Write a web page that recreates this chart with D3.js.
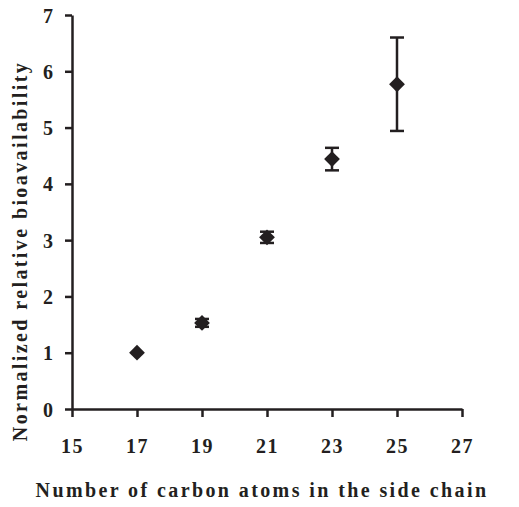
<!DOCTYPE html>
<html>
<head>
<meta charset="utf-8">
<script src="https://cdn.jsdelivr.net/npm/d3@7"></script>
<style>
  html, body { margin: 0; padding: 0; background: #fff; }
  svg text { font-family: "Liberation Serif", "DejaVu Serif", serif; font-weight: bold; fill: #231f20; }
</style>
</head>
<body>
<svg id="chart" width="519" height="507"></svg>
<script>
// Carbon atoms in the side chain vs. normalized relative bioavailability
const carbonAtoms = [17, 19, 21, 23, 25];
const bioavailability = [1.0, 1.53, 3.05, 4.44, 5.77];
const errorValues = [0.0, 0.07, 0.1, 0.2, 0.83];
const xTicks = [15, 17, 19, 21, 23, 25, 27];
const yTicks = [0, 1, 2, 3, 4, 5, 6, 7];

const ink = "#231f20";
const svg = d3.select("#chart");

const x = d3.scaleLinear().domain([15, 27]).range([72, 462]);
const y = d3.scaleLinear().domain([0, 7]).range([409, 15]);

// Axes
const xAxis = svg.append("g")
  .attr("transform", `translate(0,${y(0)})`)
  .call(d3.axisBottom(x).tickValues(xTicks).tickFormat(d3.format("d"))
    .tickSize(8).tickPadding(36).tickSizeOuter(0));
const yAxis = svg.append("g")
  .attr("transform", `translate(${x(15)},0)`)
  .call(d3.axisLeft(y).tickValues(yTicks).tickFormat(d3.format("d"))
    .tickSize(7).tickPadding(12).tickSizeOuter(0));

[xAxis, yAxis].forEach(g => {
  g.select(".domain").attr("stroke", ink).attr("stroke-width", 2.5);
  g.selectAll(".tick line").attr("stroke", ink).attr("stroke-width", 2.5);
  g.selectAll(".tick text").attr("font-size", 20).attr("fill", ink);
});
xAxis.selectAll(".tick text").attr("dy", "0").attr("letter-spacing", 1.5);
yAxis.selectAll(".tick text").attr("dy", "0.35em");

// Error bars
const bars = svg.append("g");
carbonAtoms.forEach((c, i) => {
  const e = errorValues[i];
  if (e <= 0) return;
  const cx = x(c), top = y(bioavailability[i] + e), bot = y(bioavailability[i] - e);
  bars.append("line").attr("x1", cx).attr("x2", cx).attr("y1", top).attr("y2", bot)
    .attr("stroke", ink).attr("stroke-width", 2.5);
  [top, bot].forEach(v => bars.append("line")
    .attr("x1", cx - 7).attr("x2", cx + 7).attr("y1", v).attr("y2", v)
    .attr("stroke", ink).attr("stroke-width", 2.5));
});

// Diamond markers
const diamond = d3.symbol().type(d3.symbolSquare).size(125);
svg.append("g").selectAll("path")
  .data(carbonAtoms.map((c, i) => [c, bioavailability[i]]))
  .join("path")
  .attr("d", diamond)
  .attr("fill", ink)
  .attr("transform", d => `translate(${x(d[0])},${y(d[1])}) rotate(45)`);

// Axis titles
svg.append("text")
  .attr("x", 262).attr("y", 497)
  .attr("text-anchor", "middle").attr("font-size", 20)
  .attr("letter-spacing", 2.4)
  .text("Number of carbon atoms in the side chain");
svg.append("text")
  .attr("transform", "translate(27,251) rotate(-90)")
  .attr("text-anchor", "middle").attr("font-size", 20)
  .attr("letter-spacing", 2.4)
  .text("Normalized relative bioavailability");
</script>
</body>
</html>
